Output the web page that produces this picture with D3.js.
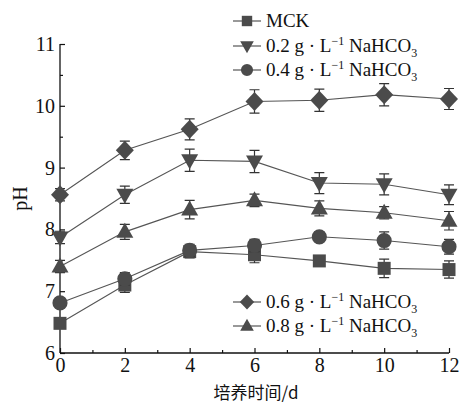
<!DOCTYPE html>
<html lang="zh">
<head>
<meta charset="UTF-8">
<title>pH</title>
<script src="https://cdn.jsdelivr.net/npm/d3@7"></script>
<style>
  body{margin:0;background:#fff;}
  text{font-family:"Liberation Serif","Times New Roman",serif;fill:#111;}
</style>
</head>
<body>
<svg></svg>
<script>
// days of culture
var days = [0, 2, 4, 6, 8, 10, 12];
var seriesSymbols = ["square", "down", "circle", "diamond", "up"];
// pH values
var phMCK = [6.48, 7.10, 7.64, 7.59, 7.49, 7.37, 7.35];
var ph02 = [7.87, 8.56, 9.12, 9.10, 8.75, 8.73, 8.56];
var ph04 = [6.81, 7.20, 7.66, 7.74, 7.88, 7.82, 7.72];
var ph06 = [8.56, 9.28, 9.62, 10.07, 10.09, 10.18, 10.11];
var ph08 = [7.40, 7.96, 8.32, 8.47, 8.34, 8.27, 8.14];
// error bars (+/-)
var errMCK = [0.08, 0.12, 0.10, 0.13, 0.08, 0.15, 0.14];
var err02 = [0.10, 0.14, 0.18, 0.18, 0.17, 0.17, 0.16];
var err04 = [0.08, 0.10, 0.10, 0.10, 0.08, 0.14, 0.12];
var err06 = [0.10, 0.15, 0.17, 0.19, 0.18, 0.18, 0.17];
var err08 = [0.10, 0.12, 0.15, 0.10, 0.12, 0.10, 0.15];
var xTicks = [0, 2, 4, 6, 8, 10, 12];
var yTicks = [6, 7, 8, 9, 10, 11];
var legendLabels = ["MCK", "0.2 g", "0.4 g", "0.6 g", "0.8 g"];

var values = [phMCK, ph02, ph04, ph06, ph08];
var errors = [errMCK, err02, err04, err06, err08];

var W = 461, H = 405;
var svg = d3.select("svg").attr("width", W).attr("height", H);

var x = d3.scaleLinear().domain([0, 12]).range([60, 449]);
var y = d3.scaleLinear().domain([6, 11]).range([353, 44]);

var dark = "#4b4b4b";

// axes, ticks pointing inward
var xAxis = svg.append("g").attr("transform", "translate(0," + y(6) + ")")
    .call(d3.axisBottom(x).tickValues(xTicks).tickSize(-5).tickPadding(5).tickFormat(d3.format("d")));
svg.append("g").attr("transform", "translate(0," + y(6) + ")")
    .call(d3.axisBottom(x).tickValues([1, 3, 5, 7, 9, 11]).tickSize(-3).tickFormat(""))
    .select(".domain").remove();
var yAxis = svg.append("g").attr("transform", "translate(" + x(0) + ",0)")
    .call(d3.axisLeft(y).tickValues(yTicks).tickSize(-5).tickPadding(5).tickFormat(d3.format("d")));
svg.append("g").attr("transform", "translate(" + x(0) + ",0)")
    .call(d3.axisLeft(y).tickValues([6.5, 7.5, 8.5, 9.5, 10.5]).tickSize(-3).tickFormat(""))
    .select(".domain").remove();
svg.selectAll(".domain").attr("stroke", "#111").attr("stroke-width", 1.3);
svg.selectAll(".tick line").attr("stroke", "#111").attr("stroke-width", 1.2);
svg.selectAll(".tick text").attr("font-size", 20)
    .attr("font-family", "Liberation Serif, serif").attr("fill", "#111");
xAxis.selectAll(".domain").attr("d", "M" + x(0) + ",0H" + x(12));
yAxis.selectAll(".domain").attr("d", "M0," + y(6) + "V" + y(11));

// axis labels
svg.append("text").attr("x", 256).attr("y", 399).attr("text-anchor", "middle")
    .attr("font-size", 17).style("font-family", "'Noto Sans CJK SC', serif")
    .text("培养时间/d");
svg.append("text").attr("transform", "translate(27," + y(8.5) + ") rotate(-90)")
    .attr("text-anchor", "middle").attr("font-size", 20).text("pH");

function symbolPath(kind, cx, cy) {
    var d;
    if (kind === "square") d = "M-6.5,-6.5H6.5V6.5H-6.5Z";
    else if (kind === "circle") d = d3.symbol().type(d3.symbolCircle).size(180)();
    else if (kind === "diamond") d = "M0,-9.5L9,0L0,9.5L-9,0Z";
    else if (kind === "down") d = "M-8.5,-6L8.5,-6L0,9Z";
    else d = "M-8.5,6L8.5,6L0,-9Z";
    return {d: d, t: "translate(" + cx + "," + cy + ")"};
}

var line = d3.line().x(function(d, i){ return x(days[i]); }).y(function(d){ return y(d); });

// draw order so the diamond is on top like the picture
var order = [0, 2, 4, 1, 3];
order.forEach(function(k){
    var g = svg.append("g");
    g.append("path").datum(values[k]).attr("d", line)
        .attr("fill", "none").attr("stroke", "#555").attr("stroke-width", 1.1);
    values[k].forEach(function(v, i){
        var cx = x(days[i]), e = errors[k][i];
        g.append("path")
            .attr("d", "M" + cx + "," + y(v + e) + "V" + y(v - e) +
                "M" + (cx - 5) + "," + y(v + e) + "H" + (cx + 5) +
                "M" + (cx - 5) + "," + y(v - e) + "H" + (cx + 5))
            .attr("stroke", "#333").attr("stroke-width", 1.2).attr("fill", "none");
        var sp = symbolPath(seriesSymbols[k], cx, y(v));
        g.append("path").attr("d", sp.d).attr("transform", sp.t).attr("fill", dark);
    });
});

// legends
var legendY = [21, 46, 70, 302, 326];
legendLabels.forEach(function(lab, k){
    var ly = legendY[k], lx = 233;
    svg.append("path").attr("d", "M" + lx + "," + ly + "H" + (lx + 28))
        .attr("stroke", "#555").attr("stroke-width", 1.2);
    var sp = symbolPath(seriesSymbols[k], lx + 14, ly);
    svg.append("path").attr("d", sp.d).attr("transform", sp.t + " scale(0.8)").attr("fill", dark);
    var t = svg.append("text").attr("x", lx + 33).attr("y", ly + 6).attr("font-size", 19);
    if (k === 0) { t.text("MCK"); return; }
    t.append("tspan").text(lab + " \u00b7 L");
    t.append("tspan").attr("dy", -7).attr("font-size", 12).text("\u22121");
    t.append("tspan").attr("dy", 7).text(" NaHCO");
    t.append("tspan").attr("dy", 5).attr("font-size", 12).text("3");
});
</script>
</body>
</html>
